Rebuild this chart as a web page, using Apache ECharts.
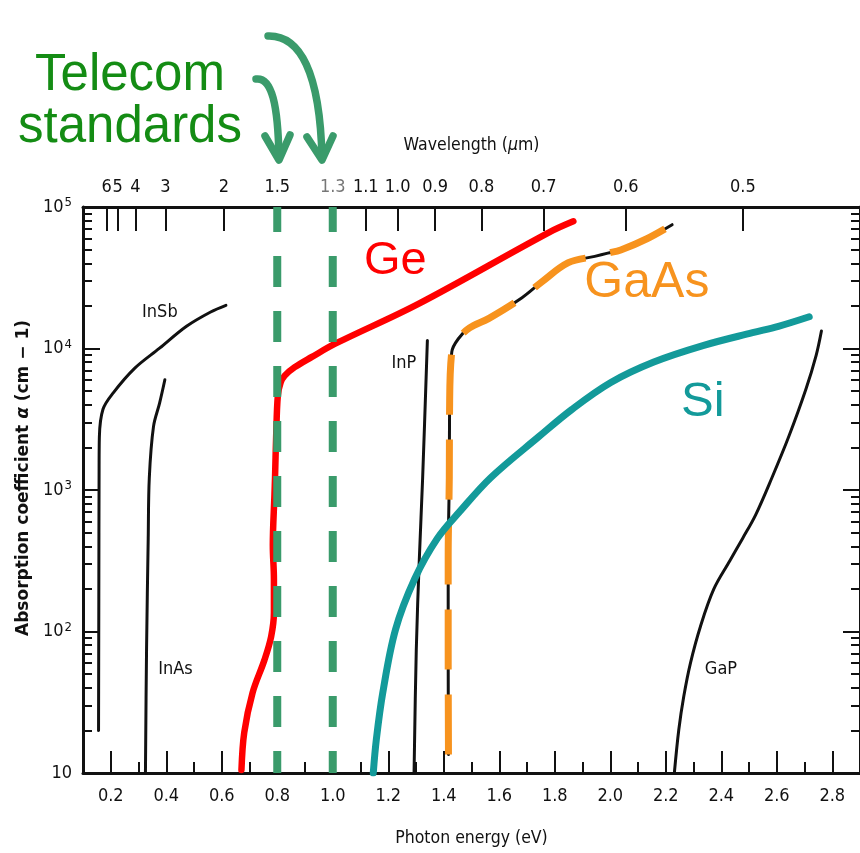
<!DOCTYPE html>
<html>
<head>
<meta charset="utf-8">
<script src="https://cdn.jsdelivr.net/npm/echarts@6/dist/echarts.min.js"></script>
<style>
  html, body { margin: 0; padding: 0; background: #fff; }
  #chart { width: 860px; height: 853px; }
</style>
</head>
<body>
<div id="chart"></div>
<script>
// ---------- data: photon energy (eV) vs absorption coefficient (cm^-1) ----------
const insbEnergy = [0.156, 0.157, 0.158, 0.159, 0.172, 0.209, 0.285, 0.376, 0.473, 0.560, 0.615];
const insbAlpha  = [20, 169, 1445, 2380, 3720, 4860, 7210, 10050, 14360, 18120, 20200];

const inasEnergy = [0.325, 0.329, 0.335, 0.339, 0.354, 0.376, 0.395];
const inasAlpha  = [10, 74, 455, 1226, 2806, 4110, 6010];

const geEnergy = [0.671, 0.681, 0.711, 0.754, 0.778, 0.788, 0.788, 0.784, 0.790, 0.792, 0.796, 0.802, 0.812, 0.827, 0.863, 0.925, 1.009, 1.307, 1.778, 1.867];
const geAlpha  = [10.5, 19.3, 36.9, 63, 92, 136, 235, 407, 930, 1226, 2376, 4616, 5730, 6430, 7380, 8720, 10810, 20600, 66000, 79300];

const inpEnergy = [1.293, 1.301, 1.312, 1.324, 1.341];
const inpAlpha  = [10, 74, 327, 1226, 11380];

const gaasEnergy = [1.417, 1.416, 1.416, 1.420, 1.421, 1.429, 1.452, 1.493, 1.563, 1.682, 1.754, 1.849, 1.944, 1.991, 2.038, 2.134, 2.223];
const gaasAlpha  = [13.5, 74, 327, 1226, 3716, 9460, 11670, 13990, 16330, 22840, 29650, 40400, 44800, 47200, 49700, 59900, 75000];

const siEnergy = [1.146, 1.157, 1.180, 1.226, 1.295, 1.377, 1.458, 1.570, 1.742, 1.861, 2.002, 2.157, 2.337, 2.513, 2.606, 2.717];
const siAlpha  = [10, 17.2, 36.7, 103, 235, 455, 706, 1226, 2377, 3700, 5750, 8020, 10520, 12940, 14350, 16770];

const gapEnergy = [2.231, 2.247, 2.265, 2.289, 2.325, 2.373, 2.431, 2.477, 2.524, 2.583, 2.643, 2.705, 2.742, 2.761];
const gapAlpha  = [10, 20.2, 34.8, 59.8, 108.6, 199, 316, 455, 668, 1226, 2376, 5150, 8950, 13290];

// bottom axis ticks (eV)
const energyLabels = [0.2, 0.4, 0.6, 0.8, 1.0, 1.2, 1.4, 1.6, 1.8, 2.0, 2.2, 2.4, 2.6, 2.8];
const energyMinor  = [0.3, 0.5, 0.7, 0.9, 1.1, 1.3, 1.5, 1.7, 1.9, 2.1, 2.3, 2.5, 2.7];

// top axis: wavelength labels (µm) and the photon energy where each tick sits
const wavelengthLabels = ['6', '5', '4', '3', '2', '1.5', '1.3', '1.1', '1.0', '0.9', '0.8', '0.7', '0.6', '0.5'];
const wavelengthTickEnergy = [0.185, 0.225, 0.289, 0.397, 0.608, 0.80, 1.0, 1.119, 1.234, 1.369, 1.536, 1.760, 2.056, 2.478];

// telecom windows marked with dashed verticals
const telecomWavelengths = ['1.5', '1.3'];

// ---------- styling ----------
const COND = '"DejaVu Sans Condensed", "DejaVu Sans", sans-serif';
const SANS = '"Liberation Sans", Arial, sans-serif';
const INK = '#111';
const GREEN = '#3a9b6b';
const RED = '#ff0000';
const ORANGE = '#f7931e';
const TEAL = '#139a9a';

const pairs = (xs, ys) => xs.map((x, i) => [x, ys[i]]);
const energyOf = (wl) => wavelengthTickEnergy[wavelengthLabels.indexOf(wl)];

// log-decade minor tick positions (exponent units) for the companion axes
const minorLog = [];
for (let d = 1; d < 5; d++) for (let k = 2; k <= 9; k++) minorLog.push(d + Math.log10(k));

const X_MIN = 0.1, X_MAX = 2.9;

function curve(name, xs, ys, color, width, extra) {
  return Object.assign({
    name, type: 'line', data: pairs(xs, ys), smooth: 0.35,
    showSymbol: false, symbol: 'none', silent: true,
    lineStyle: { color, width, cap: 'round', join: 'round' },
    z: 3
  }, extra || {});
}

const series = [
  curve('InSb', insbEnergy, insbAlpha, INK, 3),
  curve('InAs', inasEnergy, inasAlpha, INK, 3),
  curve('InP', inpEnergy, inpAlpha, INK, 3),
  curve('GaP', gapEnergy, gapAlpha, INK, 3),
  curve('GaAs-base', gaasEnergy, gaasAlpha, INK, 3),
  curve('GaAs', gaasEnergy, gaasAlpha, ORANGE, 7, {
    lineStyle: { color: ORANGE, width: 7, type: [60, 25], cap: 'butt', join: 'round' }, z: 4
  }),
  curve('Ge', geEnergy, geAlpha, RED, 6.5, { z: 4 }),
  curve('Si', siEnergy, siAlpha, TEAL, 7, { z: 4 })
];

telecomWavelengths.forEach((wl) => {
  const e = energyOf(wl);
  series.push({
    name: 'telecom ' + wl, type: 'line', data: [[e, 1e5], [e, 10]],
    showSymbol: false, symbol: 'none', silent: true,
    lineStyle: { color: GREEN, width: 8, type: [31, 24], dashOffset: 6, cap: 'butt' },
    z: 6
  });
});

const tickLine = { color: INK, width: 2 };
const labelFont = { fontFamily: COND, fontSize: 18, color: INK };

const option = {
  animation: false,
  backgroundColor: '#fff',
  grid: { left: 83, right: -3, top: 207, bottom: 80, containLabel: false },
  xAxis: [
    {
      type: 'value', position: 'bottom', min: X_MIN, max: X_MAX,
      name: 'Photon energy (eV)', nameLocation: 'middle', nameGap: 56,
      nameTextStyle: { fontFamily: COND, fontSize: 17.5, color: INK },
      axisLine: { show: true, onZero: false, lineStyle: { color: INK, width: 3 } },
      axisTick: { show: true, inside: true, length: 22, customValues: energyLabels, lineStyle: tickLine },
      axisLabel: Object.assign({ customValues: energyLabels, formatter: (v) => v.toFixed(1), margin: 14,
                   showMinLabel: true, showMaxLabel: true, hideOverlap: false }, labelFont),
      splitLine: { show: false }
    },
    {
      type: 'value', position: 'bottom', min: X_MIN, max: X_MAX,
      axisLine: { show: false, onZero: false },
      axisTick: { show: true, inside: true, length: 11, customValues: energyMinor, lineStyle: tickLine },
      axisLabel: { show: false }, splitLine: { show: false }
    },
    {
      type: 'value', position: 'top', min: X_MIN, max: X_MAX,
      name: '{a|Wavelength (}{i|µ}{a|m)}', nameLocation: 'middle', nameGap: 53,
      nameTextStyle: {
        fontFamily: COND, fontSize: 17.5, color: INK,
        rich: { a: { fontFamily: COND, fontSize: 17.5, color: INK },
                i: { fontFamily: COND, fontSize: 17.5, color: INK, fontStyle: 'italic' } }
      },
      axisLine: { show: true, onZero: false, lineStyle: { color: INK, width: 3 } },
      axisTick: { show: true, inside: true, length: 24, customValues: wavelengthTickEnergy, lineStyle: tickLine },
      axisLabel: Object.assign({
        customValues: wavelengthTickEnergy, margin: 11,
        showMinLabel: true, showMaxLabel: true, hideOverlap: false,
        formatter: (v) => {
          let best = 0;
          wavelengthTickEnergy.forEach((e, i) => {
            if (Math.abs(e - v) < Math.abs(wavelengthTickEnergy[best] - v)) best = i;
          });
          const lab = wavelengthLabels[best];
          return lab === '1.3' ? '{g|' + lab + '}' : lab;
        },
        rich: { g: { fontFamily: COND, fontSize: 18, color: '#777' } }
      }, labelFont),
      splitLine: { show: false }
    }
  ],
  yAxis: [
    {
      type: 'log', logBase: 10, min: 10, max: 1e5, position: 'left',
      name: '{b|Absorption coefficient }{i|α}{b| (cm − 1)}', nameLocation: 'middle', nameGap: 42,
      nameTextStyle: {
        padding: [0, 0, 0, 24],
        rich: {
          b: { fontFamily: '"DejaVu Sans", sans-serif', fontWeight: 'bold', fontSize: 17, color: INK },
          i: { fontFamily: '"DejaVu Sans", sans-serif', fontWeight: 'bold', fontStyle: 'italic', fontSize: 17, color: INK }
        }
      },
      axisLine: { show: true, onZero: false, lineStyle: { color: INK, width: 3 } },
      axisTick: { show: true, inside: true, length: 17, lineStyle: tickLine },
      axisLabel: Object.assign({
        margin: 11, showMinLabel: true, showMaxLabel: true,
        formatter: (v) => {
          const e = Math.round(Math.log10(v));
          return e === 1 ? '10' : '10{s|' + e + '}';
        },
        rich: { s: { fontFamily: COND, fontSize: 13, color: INK, verticalAlign: 'top', padding: [0, 0, 8, 1] } }
      }, labelFont),
      splitLine: { show: false }, minorTick: { show: false }
    },
    {
      type: 'value', min: 1, max: 5, position: 'left',
      axisLine: { show: false, onZero: false },
      axisTick: { show: true, inside: true, length: 9, customValues: minorLog, lineStyle: tickLine },
      axisLabel: { show: false }, splitLine: { show: false }
    },
    {
      type: 'log', logBase: 10, min: 10, max: 1e5, position: 'right',
      axisLine: { show: true, onZero: false, lineStyle: { color: INK, width: 3 } },
      axisTick: { show: true, inside: true, length: 17, lineStyle: tickLine },
      axisLabel: { show: false }, splitLine: { show: false }
    },
    {
      type: 'value', min: 1, max: 5, position: 'right',
      axisLine: { show: false, onZero: false },
      axisTick: { show: true, inside: true, length: 9, customValues: minorLog, lineStyle: tickLine },
      axisLabel: { show: false }, splitLine: { show: false }
    }
  ],
  series: series.map((s) => Object.assign({ xAxisIndex: 0, yAxisIndex: 0 }, s))
};

const chart = echarts.init(document.getElementById('chart'), null, { renderer: 'canvas' });
chart.setOption(option);

// ---------- annotations ----------
// curve names, anchored in data space next to their curves
const curveNotes = [
  { text: 'InSb', e: 0.377, a: 18100, size: 18, color: INK, family: COND },
  { text: 'InAs', e: 0.433, a: 53.7,  size: 18, color: INK, family: COND },
  { text: 'InP',  e: 1.256, a: 7830,  size: 18, color: INK, family: COND },
  { text: 'GaP',  e: 2.399, a: 53.7,  size: 18, color: INK, family: COND },
  { text: 'Ge',   e: 1.2255, a: 41500, size: 47, color: RED, family: SANS },
  { text: 'GaAs', e: 2.132, a: 28800, size: 50, color: ORANGE, family: SANS },
  { text: 'Si',   e: 2.3335, a: 4130,  size: 49, color: TEAL, family: SANS }
];

const graphics = curveNotes.map((n) => {
  const p = chart.convertToPixel({ xAxisIndex: 0, yAxisIndex: 0 }, [n.e, n.a]);
  return {
    type: 'text', x: p[0], y: p[1], z: 10, silent: true,
    style: { text: n.text, fill: n.color, font: n.size + 'px ' + n.family, align: 'center', verticalAlign: 'middle' }
  };
});

// heading and arrows pointing at the two telecom windows
const arrowStyle = { stroke: GREEN, lineWidth: 7.5, fill: null, lineCap: 'round', lineJoin: 'round' };
graphics.push(
  { type: 'text', x: 130, y: 50, z: 10, silent: true,
    style: { text: 'Telecom', fill: '#148c14', font: '51px ' + SANS, align: 'center', verticalAlign: 'alphabetic' } },
  { type: 'text', x: 130, y: 102, z: 10, silent: true,
    style: { text: 'standards', fill: '#148c14', font: '51px ' + SANS, align: 'center', verticalAlign: 'alphabetic' } },
  { type: 'bezierCurve', z: 10, silent: true,
    shape: { x1: 268, y1: 36, cpx1: 300, cpy1: 35, cpx2: 320, cpy2: 72, x2: 322, y2: 158 }, style: arrowStyle },
  { type: 'polyline', z: 10, silent: true,
    shape: { points: [[307, 137], [322, 160], [333, 136]] }, style: arrowStyle },
  { type: 'bezierCurve', z: 10, silent: true,
    shape: { x1: 256, y1: 79, cpx1: 272, cpy1: 77, cpx2: 278, cpy2: 105, x2: 279, y2: 158 }, style: arrowStyle },
  { type: 'polyline', z: 10, silent: true,
    shape: { points: [[265, 136], [279, 160], [290, 135]] }, style: arrowStyle }
);

chart.setOption({ graphic: graphics });
</script>
</body>
</html>
